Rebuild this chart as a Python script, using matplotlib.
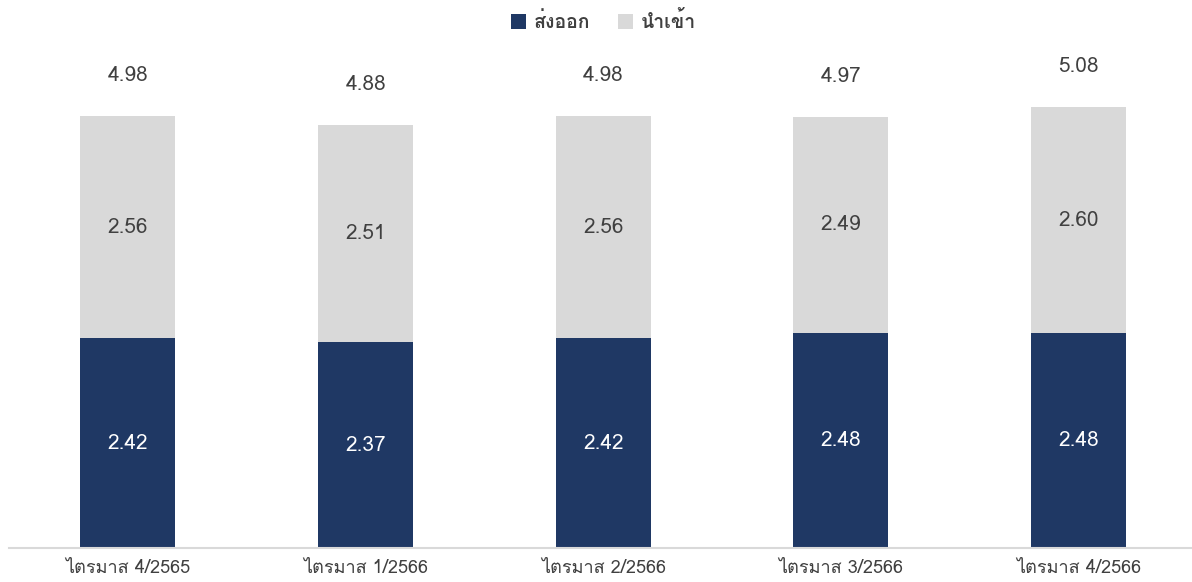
import matplotlib
matplotlib.use("Agg")
import matplotlib.pyplot as plt
from matplotlib import font_manager
from matplotlib.ft2font import FT2Font
import numpy as np

# -----------------------------
# Data
# -----------------------------
quarters = ["ไตรมาส 4/2565", "ไตรมาส 1/2566", "ไตรมาส 2/2566", "ไตรมาส 3/2566", "ไตรมาส 4/2566"]
exports = [2.42, 2.37, 2.42, 2.48, 2.48]
imports = [2.56, 2.51, 2.56, 2.49, 2.60]
totals = [4.98, 4.88, 4.98, 4.97, 5.08]

# -----------------------------
# Pick a font that has Thai glyphs
# -----------------------------
thai_font = None
for f in font_manager.fontManager.ttflist:
    try:
        if 0x0E2A in FT2Font(f.fname).get_charmap():
            thai_font = f.name
            break
    except Exception:
        pass
families = [thai_font, "DejaVu Sans"] if thai_font else ["DejaVu Sans"]
plt.rcParams["font.family"] = families

navy = "#1F3864"
grey = "#D9D9D9"
text_col = "#404040"

fig = plt.figure(figsize=(11.92, 5.82), dpi=100)
ax = fig.add_axes([0.0076, 0.0584, 0.997, 0.894])

x = np.arange(len(quarters))
w = 0.4
ax.bar(x, exports, w, color=navy, label="ส่งออก")
ax.bar(x, imports, w, bottom=exports, color=grey, label="นำเข้า")

for i in range(len(x)):
    ax.text(x[i], exports[i] / 2, f"{exports[i]:.2f}", ha="center", va="center",
            color="white", fontsize=15)
    ax.text(x[i], exports[i] + imports[i] / 2, f"{imports[i]:.2f}", ha="center", va="center",
            color=text_col, fontsize=15)
    ax.text(x[i], totals[i] + 0.47, f"{totals[i]:.2f}", ha="center", va="center",
            color=text_col, fontsize=15)

ax.set_xlim(-0.5, 4.5)
ax.set_ylim(0, 6)
ax.set_xticks(x)
ax.set_xticklabels(quarters, fontsize=13, color=text_col)
ax.tick_params(axis="x", length=0, pad=8)
ax.set_yticks([])
for s in ["top", "right", "left"]:
    ax.spines[s].set_visible(False)
ax.spines["bottom"].set_color("#D9D9D9")
ax.spines["bottom"].set_linewidth(1.5)

leg = ax.legend(loc="upper center", bbox_to_anchor=(0.5, 1.065), ncol=2, frameon=False,
                handlelength=0.8, handleheight=0.8, columnspacing=1.4, handletextpad=0.4,
                prop={"size": 14, "weight": "bold"})
for t in leg.get_texts():
    t.set_color(text_col)

fig.savefig("out.png", dpi=100)
